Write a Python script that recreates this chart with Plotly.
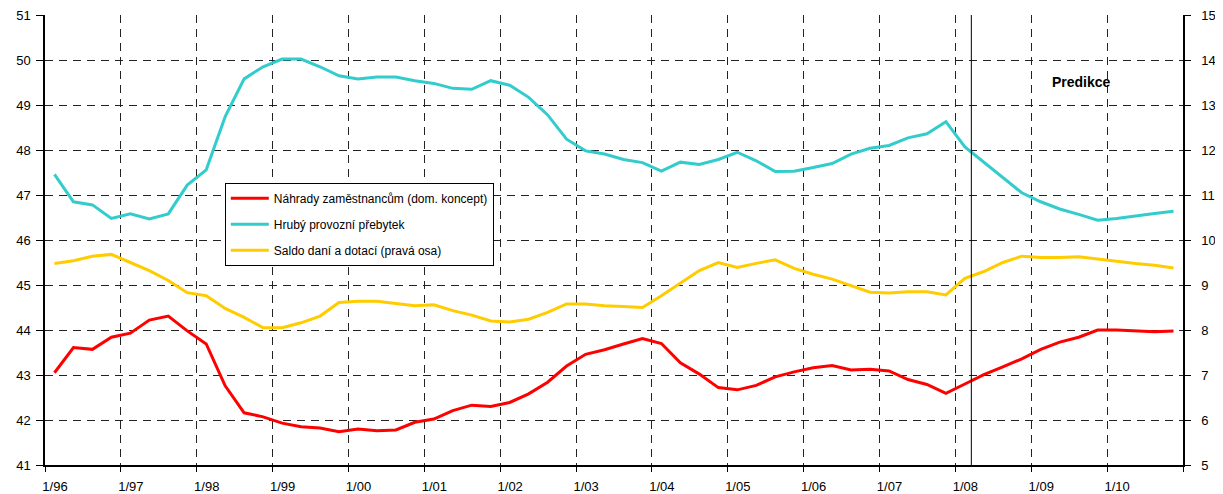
import plotly.graph_objects as go

# ---- data (quarterly, 1996Q1 .. 2010Q4) ----
years = list(range(1996, 2011))
quarters = [1, 2, 3, 4]
period_x = [y + (q - 0.5) / 4 for y in years for q in quarters]

# Náhrady zaměstnancům (dom. koncept) - left axis
nahrady = [
    43.05, 43.61, 43.57, 43.84, 43.93, 44.22, 44.31, 43.98,
    43.69, 42.76, 42.16, 42.07, 41.93, 41.85, 41.82, 41.74,
    41.80, 41.76, 41.78, 41.95, 42.02, 42.21, 42.33, 42.30,
    42.39, 42.58, 42.84, 43.20, 43.46, 43.56, 43.69, 43.81,
    43.70, 43.27, 43.02, 42.72, 42.67, 42.77, 42.96, 43.07,
    43.16, 43.21, 43.11, 43.13, 43.09, 42.90, 42.79, 42.59,
    42.80, 43.01, 43.18, 43.36, 43.57, 43.73, 43.84, 44.00,
    44.00, 43.98, 43.96, 43.98,
]

# Hrubý provozní přebytek - left axis
hruby = [
    47.46, 46.85, 46.78, 46.48, 46.58, 46.47, 46.58, 47.22,
    47.56, 48.74, 49.58, 49.85, 50.02, 50.02, 49.85, 49.65,
    49.58, 49.62, 49.62, 49.54, 49.48, 49.37, 49.35, 49.54,
    49.44, 49.17, 48.78, 48.24, 47.98, 47.91, 47.79, 47.72,
    47.53, 47.73, 47.68, 47.79, 47.95, 47.76, 47.52, 47.53,
    47.61, 47.70, 47.91, 48.04, 48.10, 48.27, 48.36, 48.63,
    48.07, 47.73, 47.39, 47.05, 46.85, 46.69, 46.57, 46.44,
    46.48, 46.54, 46.59, 46.64,
]

# Saldo daní a dotací (pravá osa) - right axis
saldo = [
    9.48, 9.54, 9.64, 9.68, 9.50, 9.32, 9.10, 8.83,
    8.76, 8.48, 8.28, 8.05, 8.05, 8.16, 8.31, 8.61,
    8.64, 8.64, 8.59, 8.54, 8.56, 8.43, 8.33, 8.20,
    8.18, 8.24, 8.39, 8.58, 8.58, 8.54, 8.52, 8.50,
    8.76, 9.04, 9.32, 9.50, 9.39, 9.48, 9.56, 9.37,
    9.24, 9.13, 8.98, 8.84, 8.82, 8.85, 8.85, 8.78,
    9.15, 9.30, 9.50, 9.64, 9.61, 9.61, 9.63, 9.58,
    9.52, 9.48, 9.44, 9.38,
]

series_names = [
    "Náhrady zaměstnancům (dom. koncept)",
    "Hrubý provozní přebytek",
    "Saldo daní a dotací (pravá osa)",
]
tick_years = list(range(1996, 2012))
tick_labels = ["1/%02d" % (y % 100) for y in range(1996, 2011)] + [""]
forecast_start = 2008.21
forecast_label = "Predikce"

FONT = "Arial, Liberation Sans, sans-serif"

fig = go.Figure()
fig.add_trace(go.Scatter(x=period_x, y=nahrady, name=series_names[0], mode="lines",
                         line=dict(color="#FF0000", width=3), legendgroup="a"))
fig.add_trace(go.Scatter(x=period_x, y=hruby, name=series_names[1], mode="lines",
                         line=dict(color="#33CCCC", width=3), legendgroup="b"))
fig.add_trace(go.Scatter(x=period_x, y=saldo, name=series_names[2], mode="lines",
                         line=dict(color="#FFCC00", width=3), yaxis="y2", legendgroup="c"))

grid_kw = dict(showgrid=True, gridcolor="#222222", gridwidth=1, griddash="8px,6px")

# page body has an 8px margin: figure is sized/offset so the plot lands where the reference has it
fig.update_layout(
    width=1215, height=486, autosize=False,
    margin=dict(l=37, r=40, t=7, b=29),
    paper_bgcolor="white", plot_bgcolor="white",
    font=dict(family=FONT, size=12, color="black"),
    xaxis=dict(range=[1996, 2011], tickmode="array", tickvals=tick_years, ticktext=tick_labels,
               ticks="outside", ticklen=5, tickcolor="black", showline=True, linecolor="black",
               linewidth=1.5, zeroline=False, ticklabelshift=10, ticklabelstandoff=4,
               tickfont=dict(size=13), automargin=False, ticklabeloverflow="allow", **grid_kw),
    yaxis=dict(range=[41, 51], tick0=41, dtick=1, ticks="outside", ticklen=7, tickcolor="black",
               showline=True, linecolor="black", linewidth=1.5, zeroline=False,
               ticklabelstandoff=3, tickfont=dict(size=13), automargin=False,
               ticklabeloverflow="allow", **grid_kw),
    yaxis2=dict(range=[5, 15], tick0=5, dtick=1, overlaying="y", side="right", ticks="outside",
                ticklen=6, tickcolor="black", showline=True, linecolor="black", linewidth=1.5,
                zeroline=False, showgrid=False, ticklabelstandoff=8, tickfont=dict(size=13),
                automargin=False, ticklabeloverflow="allow"),
    legend=dict(x=0.158, y=0.627, xanchor="left", yanchor="top", bgcolor="white",
                bordercolor="black", borderwidth=1, font=dict(family=FONT, size=12, color="black"),
                itemwidth=38, tracegroupgap=7, traceorder="grouped"),
    shapes=[dict(type="line", xref="x", yref="paper", x0=forecast_start, x1=forecast_start,
                 y0=0, y1=1, line=dict(color="black", width=1))],
    annotations=[dict(text="<b>" + forecast_label + "</b>", x=2009.66, y=49.52, xref="x", yref="y",
                      showarrow=False, font=dict(family=FONT, size=14, color="black"))],
)

fig.write_html("out.html")
